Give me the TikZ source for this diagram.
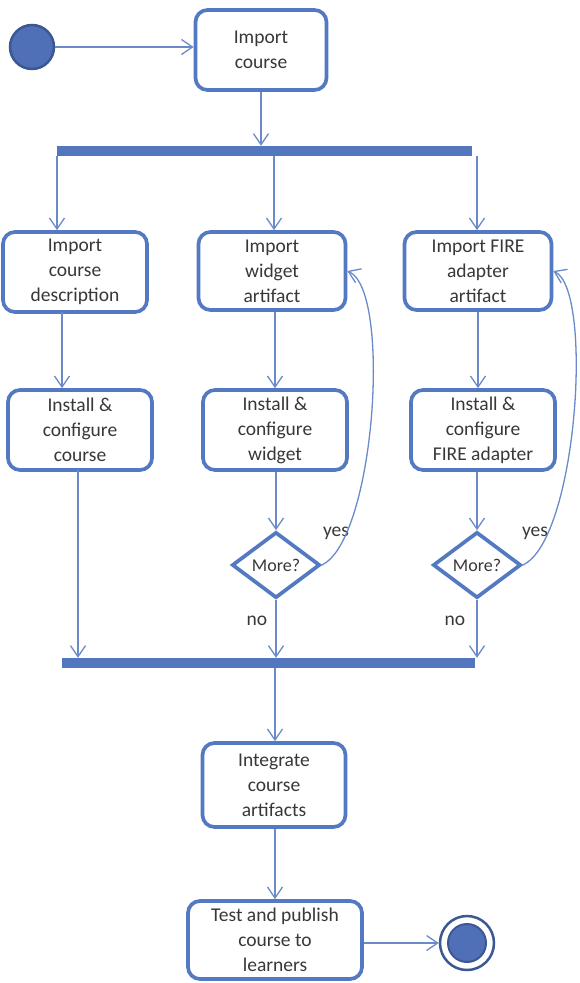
\documentclass[tikz,border=0pt]{standalone}
\usepackage{fontspec}
\setmainfont{Carlito}
\usetikzlibrary{shapes.geometric,arrows.meta}
\definecolor{boxblue}{HTML}{5379C2}
\definecolor{barblue}{HTML}{5277BF}
\definecolor{lineblue}{HTML}{6A8ACA}
\definecolor{dotblue}{HTML}{4F6FB6}
\definecolor{dotedge}{HTML}{3C5893}
\definecolor{txt}{HTML}{383838}
\tikzset{
  act/.style={draw=boxblue, line width=3.7pt, rounded corners=12pt, fill=white,
    align=center, text=txt, font={\fontsize{19.5}{25}\selectfont}, inner sep=0pt},
  dec/.style={diamond, draw=boxblue, line width=3.7pt, fill=white, inner sep=0pt,
    text=txt, font={\fontsize{18}{20}\selectfont}, minimum width=88pt, minimum height=66pt},
  bar/.style={fill=barblue, draw=none, inner sep=0pt, minimum height=10pt},
  flow/.style={draw=lineblue, line width=1.3pt, -{Straight Barb[length=11pt,width=15pt,line width=1.3pt]}},
  lbl/.style={text=txt, font={\fontsize{19.5}{22}\selectfont}},
}
\begin{document}
\begin{tikzpicture}[x=1pt,y=1pt]
\useasboundingbox (0,0) rectangle (580,-983);
% start
\node[circle, fill=dotblue, draw=dotedge, line width=2.5pt, minimum size=44pt, inner sep=0pt] (start) at (32,-47) {};
\node[act, minimum width=131pt, minimum height=80pt] (imp) at (261,-50) {Import\\course};
\node[bar, minimum width=415pt] (fork) at (264.5,-151) {};
% row 1
\node[act, minimum width=144pt, minimum height=80pt] (b1) at (75,-272) {Import\\course\\description};
\node[act, minimum width=147pt, minimum height=78pt] (b2) at (272,-271) {Import\\widget\\artifact};
\node[act, minimum width=147pt, minimum height=78pt] (b3) at (478,-271) {Import FIRE\\adapter\\artifact};
% row 2
\node[act, minimum width=144pt, minimum height=80pt] (b4) at (80,-430) {Install \&\\configure\\course};
\node[act, minimum width=144pt, minimum height=80pt] (b5) at (275,-430) {Install \&\\configure\\widget};
\node[act, minimum width=144pt, minimum height=80pt] (b6) at (483,-430) {Install \&\\configure\\FIRE adapter};
% decisions
\node[dec] (d1) at (276,-565) {More?};
\node[dec] (d2) at (477,-565) {More?};
\node[lbl] (y1) at (336,-533) {yes};
\node[lbl] (y2) at (535,-533) {yes};
\node[lbl] (n1) at (257,-621) {no};
\node[lbl] (n2) at (455,-621) {no};
% join
\node[bar, minimum width=413pt] (join) at (268.5,-663) {};
% bottom
\node[act, minimum width=143pt, minimum height=84pt] (b7) at (274,-785) {Integrate\\course\\artifacts};
\node[act, minimum width=174pt, minimum height=78pt] (b8) at (275,-940) {Test and publish\\course to\\learners};
\node[circle, draw=dotedge, line width=2.5pt, fill=white, minimum size=54pt, inner sep=0pt] (endo) at (467,-943) {};
\node[circle, fill=dotblue, draw=dotedge, line width=2pt, minimum size=38pt, inner sep=0pt] (endi) at (467,-943) {};
% coordinates
\coordinate (f1) at (57,-156);
\coordinate (f2) at (274,-156);
\coordinate (f3) at (477,-156);
\coordinate (c1) at (62,-312);
\coordinate (c4) at (78,-470);
% connectors
\draw[flow] (start.east) -- (start -| imp.west);
\draw[flow] (imp.south) -- (imp |- fork.north);
\draw[flow] (f1) -- (f1 |- b1.north);
\draw[flow] (f2) -- (f2 |- b2.north);
\draw[flow] (f3) -- (f3 |- b3.north);
\draw[flow] (c1) -- (c1 |- b4.north);
\draw[flow] (b2.south -| b5) -- (b5.north);
\draw[flow] (b3.south) -- (b3.south |- b6.north);
\draw[flow] (c4) -- (c4 |- join.north);
\draw[flow] (b5.south -| d1) -- (d1.north);
\draw[flow] (b6.south -| d2) -- (d2.north);
\draw[flow] (d1.south) -- (d1.south |- join.north);
\draw[flow] (d2.south) -- (d2.south |- join.north);
\draw[flow] (d1.east) .. controls (375,-540) and (392,-290) .. (b2.east);
\draw[flow] (d2.east) .. controls (577,-540) and (594,-290) .. (b3.east);
\draw[flow] (join.south -| b8) -- (b7.north -| b8);
\draw[flow] (b7.south -| b8) -- (b8.north);
\draw[flow] (b8.east |- endo) -- (endo.west);
\end{tikzpicture}
\end{document}
